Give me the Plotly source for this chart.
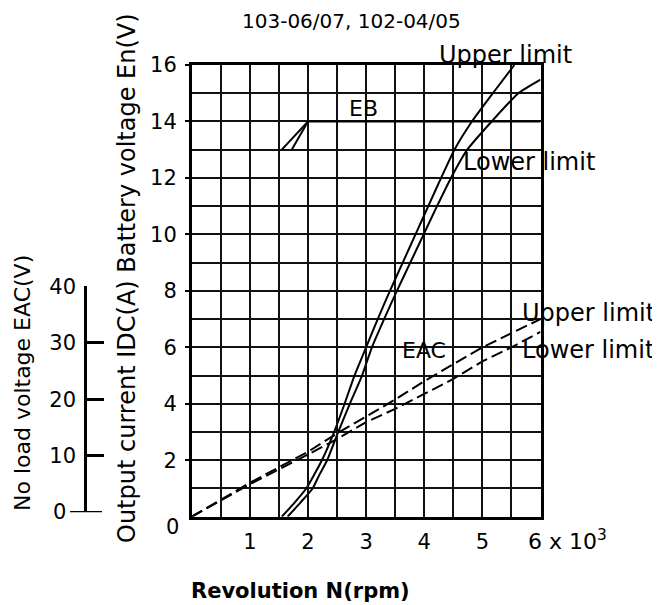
import plotly.graph_objects as go

W, H = 660, 605
OFF = 8  # page body margin of the written html

# ---- data ----
rpm_idc_upper = [1.55, 1.77, 1.97, 2.11, 2.24, 2.45, 2.63, 2.80, 3.00, 3.20, 3.41, 3.63, 3.85, 4.07, 4.29, 4.52, 4.82, 5.18, 5.55]
idc_upper = [0, 0.5, 1.0, 1.5, 2, 3, 4, 5, 6, 7, 8, 9, 10, 11, 12, 13, 14, 15, 16]
rpm_idc_lower = [1.65, 1.87, 2.08, 2.20, 2.33, 2.52, 2.72, 2.93, 3.10, 3.31, 3.53, 3.76, 3.99, 4.22, 4.46, 4.74, 5.16, 5.62, 6.00]
idc_lower = [0, 0.5, 1.0, 1.5, 2, 3, 4, 5, 6, 7, 8, 9, 10, 11, 12, 13, 14, 15, 15.48]

rpm_eb_a = [1.55, 2.0, 6.0]
eb_a = [13, 14, 14]
rpm_eb_b = [1.72, 2.0]
eb_b = [13, 14]

rpm_eac = [0, 1, 2, 2.5, 3, 3.5, 4, 4.5, 5, 5.5, 6]
eac_upper = [0, 6.0, 11.5, 14.75, 17.75, 20.75, 24.0, 27.0, 30.0, 32.5, 35.0]
eac_lower = [0, 5.75, 11.0, 13.75, 16.75, 19.1, 21.75, 24.4, 27.5, 30.0, 32.75]

x_ticks = [1, 2, 3, 4, 5]
x_ticktext = ["1", "2", "3", "4", "5"]
y_ticks = [2, 4, 6, 8, 10, 12, 14, 16]
y_ticktext = ["2", "4", "6", "8", "10", "12", "14", "16"]
eac_ticks = [10, 20, 30, 40]
eac_ticktext = ["10", "20", "30", "40"]

FONT = "DejaVu Sans"

def px(x):
    return (x - OFF) / W

def py(y):
    return 1 - (y - OFF) / H

X0, X1 = 191.7, 540.5
YB, YT = 516.7, 65.0
xdom = [px(X0), px(X1)]
ydom = [py(YB), py(YT)]
half = ydom[0] + (ydom[1] - ydom[0]) / 2
shift = 4.5 / H

fig = go.Figure()
line = dict(color="black", width=2)
curve = dict(color="black", width=2, shape="spline", smoothing=0.5)
fig.add_trace(go.Scatter(x=rpm_idc_upper, y=idc_upper, mode="lines", line=curve, name="IDC upper"))
fig.add_trace(go.Scatter(x=rpm_idc_lower, y=idc_lower, mode="lines", line=curve, name="IDC lower"))
fig.add_trace(go.Scatter(x=rpm_eb_a, y=eb_a, mode="lines", line=line, name="EB"))
fig.add_trace(go.Scatter(x=rpm_eb_b, y=eb_b, mode="lines", line=line, name="EB"))
dash = dict(color="black", width=2, dash="12px,5px")
fig.add_trace(go.Scatter(x=rpm_eac, y=eac_upper, mode="lines", line=dash, name="EAC upper", yaxis="y3"))
fig.add_trace(go.Scatter(x=rpm_eac, y=eac_lower, mode="lines", line=dash, name="EAC lower", yaxis="y3"))
fig.add_trace(go.Scatter(x=[None], y=[None], mode="lines", yaxis="y4", showlegend=False, hoverinfo="skip"))

grid = dict(showgrid=True, gridcolor="#111", gridwidth=1.6)
fig.update_layout(
    width=W, height=H,
    margin=dict(l=0, r=0, t=0, b=0),
    paper_bgcolor="white", plot_bgcolor="rgba(0,0,0,0)",
    showlegend=False,
    font=dict(family=FONT, color="black", size=21),
    xaxis=dict(domain=xdom, range=[0, 6], tickvals=x_ticks, ticktext=x_ticktext,
               ticks="", showline=True, mirror=True, linecolor="black", linewidth=2.5,
               zeroline=False, ticklabelstandoff=4,
               minor=dict(dtick=0.5, tick0=0, ticks="", **grid), automargin=False, **grid),
    yaxis=dict(domain=ydom, range=[0, 16], tickvals=y_ticks, ticktext=y_ticktext,
               ticks="outside", ticklen=4, tickwidth=2, tickcolor="black",
               showline=True, mirror=True, linecolor="black", linewidth=2.5,
               zeroline=False, ticklabelstandoff=4,
               minor=dict(dtick=1, tick0=0, ticks="", **grid), automargin=False, **grid),
    yaxis3=dict(domain=[ydom[0], half], range=[0, 40], visible=False, anchor="x"),
    yaxis4=dict(domain=[ydom[0] + shift, half + shift], range=[0, 40], anchor="free",
                position=px(85), side="left", tickvals=eac_ticks, ticktext=eac_ticktext,
                ticks="inside", ticklen=17, tickwidth=2.5, tickcolor="black", showline=True,
                linecolor="black", linewidth=2.5, showgrid=False, zeroline=False,
                ticklabelstandoff=4, automargin=False),
)

# zero tick of the EAC scale, which also reaches left of its axis line
fig.add_shape(type="line", xref="paper", yref="y4", x0=px(70), x1=px(102), y0=0, y1=0,
              line=dict(color="black", width=2.5))

def ann(text, x, y, size, xanchor="center", yanchor="middle", angle=0, bold=False):
    fig.add_annotation(text=text, x=px(x), y=py(y), xref="paper", yref="paper",
                       xanchor=xanchor, yanchor=yanchor, textangle=angle, showarrow=False,
                       font=dict(family=FONT, size=size, color="black",
                                 weight="bold" if bold else "normal"))

ann("103-06/07, 102-04/05", 351, 21, 20)
ann("Upper limit", 437, 55, 24, xanchor="left")
ann("EB", 363, 108, 22)
ann("Lower limit", 461, 162, 24, xanchor="left")
ann("EAC", 424, 350, 22)
ann("Upper limit", 520, 313, 24, xanchor="left")
ann("Lower limit", 520, 350, 24, xanchor="left")
ann("0", 172, 527, 21)
ann("0", 60, 512, 21)
ann("6 x 10<sup>3</sup>", 526, 540, 22, xanchor="left")
ann("Revolution N(rpm)", 189, 591, 21, xanchor="left", bold=True)
ann("Output current IDC(A) Battery voltage En(V)", 127, 278, 24, angle=-90)
ann("No load voltage EAC(V)", 22, 383, 22, angle=-90)

fig.write_html("out.html")
